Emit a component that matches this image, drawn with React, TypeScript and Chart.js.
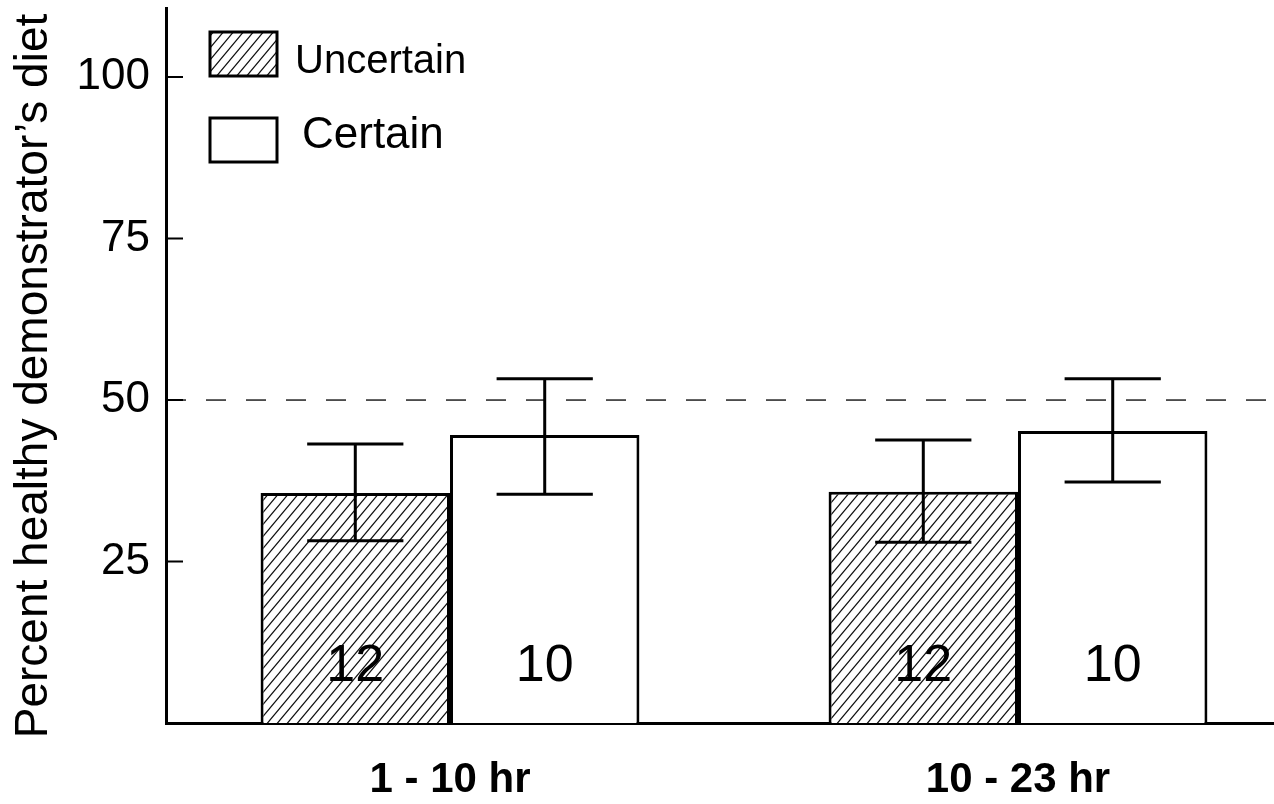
import { useEffect, useRef } from 'react';
import { Chart, registerables } from 'chart.js';

Chart.register(...registerables);

const categories = ['1 - 10 hr', '10 - 23 hr'];
const categoryPositions = [1, 2];
const seriesNames = ['Uncertain', 'Certain'];
const uncertainMeans = [35.6, 35.8];
const certainMeans = [44.6, 45.2];
const uncertainLow = [28.2, 28.0];
const uncertainHigh = [43.2, 43.8];
const certainLow = [35.4, 37.3];
const certainHigh = [53.3, 53.3];
const uncertainN = ['12', '12'];
const certainN = ['10', '10'];
const yTicks = [25, 50, 75, 100];
const chanceLevel = 50;
const yTitle = 'Percent healthy demonstrator\u2019s diet';

const FONT = '"Liberation Sans", Arial, Helvetica, sans-serif';

function makeHatch(): CanvasPattern | string {
  const w = 10;
  const h = 12;
  const c = document.createElement('canvas');
  c.width = w;
  c.height = h;
  const g = c.getContext('2d');
  if (!g) return '#fff';
  g.fillStyle = '#fff';
  g.fillRect(0, 0, w, h);
  g.strokeStyle = '#111';
  g.lineWidth = 1.2;
  g.beginPath();
  for (const off of [-w, 0, w]) {
    g.moveTo(off - w * 0.5, h * 1.5);
    g.lineTo(off + w * 1.5, -h * 0.5);
  }
  g.stroke();
  return g.createPattern(c, 'repeat') || '#fff';
}

const chancePlugin = {
  id: 'chanceLine',
  beforeDatasetsDraw(chart: any) {
    const { ctx, chartArea } = chart;
    const y = chart.scales.y.getPixelForValue(chanceLevel);
    ctx.save();
    ctx.strokeStyle = '#222';
    ctx.lineWidth = 1.5;
    ctx.setLineDash([20, 20]);
    ctx.beginPath();
    ctx.moveTo(chartArea.left, y);
    ctx.lineTo(chartArea.right, y);
    ctx.stroke();
    ctx.restore();
  },
};

const errorBarPlugin = {
  id: 'errorBars',
  afterDatasetsDraw(chart: any) {
    const { ctx } = chart;
    const yScale = chart.scales.y;
    chart.data.datasets.forEach((ds: any, di: number) => {
      const meta = chart.getDatasetMeta(di);
      meta.data.forEach((bar: any, i: number) => {
        const x = bar.x;
        const half = bar.width * 0.254;
        const yl = yScale.getPixelForValue(ds.errLow[i]);
        const yh = yScale.getPixelForValue(ds.errHigh[i]);
        ctx.save();
        ctx.strokeStyle = '#000';
        ctx.lineWidth = 3;
        ctx.beginPath();
        ctx.moveTo(x, yl);
        ctx.lineTo(x, yh);
        ctx.moveTo(x - half, yl);
        ctx.lineTo(x + half, yl);
        ctx.moveTo(x - half, yh);
        ctx.lineTo(x + half, yh);
        ctx.stroke();
        // sample size label
        ctx.fillStyle = '#000';
        ctx.font = `52px ${FONT}`;
        ctx.textAlign = 'center';
        ctx.textBaseline = 'middle';
        ctx.fillText(ds.nLabels[i], x, yScale.getPixelForValue(8.8));
        ctx.restore();
      });
    });
  },
};

const decorPlugin = {
  id: 'decor',
  afterDraw(chart: any) {
    const { ctx, chartArea } = chart;
    const yScale = chart.scales.y;
    ctx.save();
    // inward tick marks
    ctx.strokeStyle = '#000';
    ctx.lineWidth = 2;
    ctx.beginPath();
    yTicks.forEach((v) => {
      const y = yScale.getPixelForValue(v);
      ctx.moveTo(chartArea.left, y);
      ctx.lineTo(chartArea.left + 17, y);
    });
    ctx.stroke();

    // y-axis title
    ctx.save();
    ctx.translate(34, 376);
    ctx.rotate(-Math.PI / 2);
    ctx.fillStyle = '#000';
    ctx.font = `46px ${FONT}`;
    ctx.textAlign = 'center';
    ctx.textBaseline = 'middle';
    ctx.fillText(yTitle, 0, 0);
    ctx.restore();

    // legend
    const ds = chart.data.datasets;
    const boxes = [
      { y: 32, fill: ds[0].backgroundColor, text: seriesNames[0], size: 40, tx: 295, ty: 73 },
      { y: 118, fill: ds[1].backgroundColor, text: seriesNames[1], size: 44, tx: 302, ty: 148 },
    ];
    boxes.forEach((b) => {
      ctx.fillStyle = b.fill;
      ctx.fillRect(210, b.y, 67, 44);
      ctx.strokeStyle = '#000';
      ctx.lineWidth = 3;
      ctx.strokeRect(210, b.y, 67, 44);
      ctx.fillStyle = '#000';
      ctx.font = `${b.size}px ${FONT}`;
      ctx.textAlign = 'left';
      ctx.textBaseline = 'alphabetic';
      ctx.fillText(b.text, b.tx, b.ty);
    });
    ctx.restore();
  },
};

export default function App() {
  const ref = useRef<HTMLCanvasElement | null>(null);

  useEffect(() => {
    if (!ref.current) return;
    const hatch = makeHatch();
    const chart = new Chart(ref.current, {
      type: 'bar',
      data: {
        datasets: [
          {
            label: seriesNames[0],
            data: categoryPositions.map((x, i) => ({ x, y: uncertainMeans[i] })),
            backgroundColor: hatch as any,
            borderColor: '#000',
            borderWidth: 3,
            categoryPercentage: 0.667,
            barPercentage: 1,
            errLow: uncertainLow,
            errHigh: uncertainHigh,
            nLabels: uncertainN,
          } as any,
          {
            label: seriesNames[1],
            data: categoryPositions.map((x, i) => ({ x, y: certainMeans[i] })),
            backgroundColor: '#fff',
            borderColor: '#000',
            borderWidth: 3,
            categoryPercentage: 0.667,
            barPercentage: 1,
            errLow: certainLow,
            errHigh: certainHigh,
            nLabels: certainN,
          } as any,
        ],
      },
      options: {
        animation: false,
        responsive: true,
        maintainAspectRatio: false,
        layout: { padding: { top: 8, right: 0, left: 0, bottom: 0 } },
        plugins: {
          legend: { display: false },
          tooltip: { enabled: false },
          title: { display: false },
        },
        scales: {
          x: {
            type: 'linear',
            offset: false,
            min: 0.5,
            max: 2.4507,
            grid: { display: false },
            border: { display: true, color: '#000', width: 3 },
            afterBuildTicks: (s: any) => {
              s.ticks = categoryPositions.map((v) => ({ value: v }));
            },
            ticks: {
              autoSkip: false,
              maxRotation: 0,
              color: '#000',
              padding: 24,
              font: { family: FONT, size: 42, weight: 'bold' },
              callback: (v: any) => {
                const idx = categoryPositions.indexOf(Number(v));
                return idx >= 0 ? categories[idx] : '';
              },
            },
            afterFit: (s: any) => {
              s.height = 81;
              s.paddingLeft = 0;
              s.paddingRight = 0;
            },
          } as any,
          y: {
            min: 0,
            max: 110.7,
            grid: { display: false },
            border: { display: true, color: '#000', width: 3 },
            afterBuildTicks: (s: any) => {
              s.ticks = yTicks.map((v) => ({ value: v }));
            },
            ticks: {
              color: '#000',
              padding: 8,
              font: { family: FONT, size: 44 },
            },
            afterFit: (s: any) => {
              s.width = 166;
              s.paddingTop = 0;
              s.paddingBottom = 0;
            },
          } as any,
        },
      },
      plugins: [chancePlugin, errorBarPlugin, decorPlugin],
    });
    return () => chart.destroy();
  }, []);

  return (
    <div style={{ position: 'fixed', left: 0, top: 0, width: 1274, height: 804, background: '#fff' }}>
      <canvas ref={ref} />
    </div>
  );
}
